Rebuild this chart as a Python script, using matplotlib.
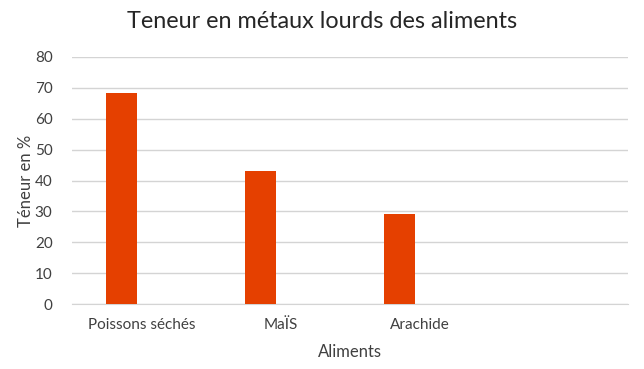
import matplotlib.pyplot as plt
import numpy as np

categories = ['Poissons séchés', 'MaÏS', 'Arachide', '']
values = [68.5, 43, 29, 0]
yticks = [0, 10, 20, 30, 40, 50, 60, 70, 80]

plt.rcParams['font.family'] = ['Lato', 'DejaVu Sans']

fig = plt.figure(figsize=(6.44, 3.69), dpi=100)
ax = fig.add_axes([72 / 644, 1 - 304 / 369, 556 / 644, 247 / 369])

x = np.arange(len(categories))
ax.bar(x - 0.145, values, width=0.225, color='#E54000', zorder=3)

ax.set_xlim(-0.5, len(categories) - 0.5)
ax.set_ylim(0, 80)
ax.set_yticks(yticks)
ax.set_xticks(x)
ax.set_xticklabels(categories)

ax.grid(axis='y', color='#d4d4d4', linewidth=1, zorder=0)
for s in ['top', 'right', 'left']:
    ax.spines[s].set_visible(False)
ax.spines['bottom'].set_color('#d4d4d4')
ax.tick_params(axis='both', length=0, labelsize=11, colors='#404040')
ax.tick_params(axis='y', pad=14)
ax.tick_params(axis='x', pad=10)

ax.set_ylabel('Téneur en %', fontsize=12, color='#404040')
ax.set_xlabel('Aliments', fontsize=12, color='#404040')
ax.yaxis.set_label_coords(-0.083, 0.5)
ax.xaxis.set_label_coords(0.5, -0.194)
ax.xaxis.label.set_va('center')
ax.yaxis.label.set_va('center')
fig.text(0.5, 1 - 21 / 369, 'Teneur en métaux lourds des aliments',
         ha='center', va='center', fontsize=16.8, color='#262626')

fig.savefig('out.png', dpi=100)
